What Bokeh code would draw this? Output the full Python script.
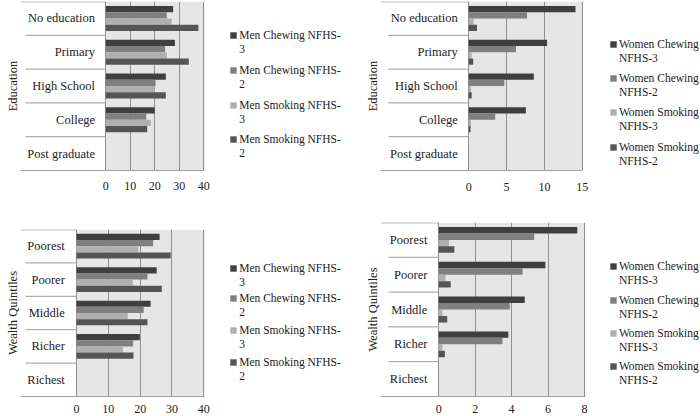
from bokeh.plotting import figure
from bokeh.models import (FactorRange, Range1d, FixedTicker, BoxAnnotation, Legend,
                          LegendItem, ColumnDataSource, Title, Spacer)
from bokeh.transform import dodge
from bokeh.layouts import row, column
from bokeh.embed import file_html
from bokeh.resources import INLINE
from bokeh.core.properties import value

# ---------------- data ----------------
education = ["No education", "Primary", "High School", "College", "Post graduate"]
wealth = ["Poorest", "Poorer", "Middle", "Richer", "Richest"]

men_series = ["Men Chewing NFHS-3", "Men Chewing NFHS-2", "Men Smoking NFHS-3", "Men Smoking NFHS-2"]
women_series = ["Women Chewing NFHS-3", "Women Chewing NFHS-2", "Women Smoking NFHS-3", "Women Smoking NFHS-2"]

men_edu_chew3 = [27.5, 28.2, 24.5, 20.0, 0]
men_edu_chew2 = [24.9, 24.2, 20.3, 16.5, 0]
men_edu_smoke3 = [26.9, 24.9, 19.9, 18.4, 0]
men_edu_smoke2 = [37.8, 33.9, 24.5, 16.9, 0]

women_edu_chew3 = [14.1, 10.35, 8.6, 7.55, 0]
women_edu_chew2 = [7.7, 6.25, 4.7, 3.5, 0]
women_edu_smoke3 = [0.65, 0.4, 0.3, 0.3, 0]
women_edu_smoke2 = [1.1, 0.6, 0.4, 0.25, 0]

men_wealth_chew3 = [26.1, 25.2, 23.3, 19.9, 0]
men_wealth_chew2 = [24.1, 22.3, 21.1, 17.8, 0]
men_wealth_smoke3 = [19.4, 17.7, 16.1, 14.6, 0]
men_wealth_smoke2 = [29.6, 26.8, 22.3, 17.9, 0]

women_wealth_chew3 = [7.6, 5.85, 4.72, 3.82, 0]
women_wealth_chew2 = [5.24, 4.6, 3.9, 3.5, 0]
women_wealth_smoke3 = [0.57, 0.38, 0.21, 0.21, 0]
women_wealth_smoke2 = [0.86, 0.66, 0.47, 0.34, 0]

men_ticks = [0, 10, 20, 30, 40]
women_edu_ticks = [0, 5, 10, 15]
women_wealth_ticks = [0, 2, 4, 6, 8]

# ---------------- style ----------------
COLORS = ["#3f3f3f", "#7f7f7f", "#b0b0b0", "#555555"]
OFFSETS = [0.278, 0.093, -0.093, -0.278]
BAR_H = 0.185
FONT = "Liberation Serif"
TXT = "#222222"
GRID = "#8f8f8f"
ITEM_H = 14


def split_name(name, men):
    """Legend text broken over two lines the way the reference wraps it."""
    if men:
        return name[:-1], name[-1]
    parts = name.split(" ")
    return " ".join(parts[:2]), parts[2]


def panel(cats, vals, names, men, ticks, title, width, height, frame_left, zero_px,
          end_px, frame_top, frame_bottom, sep_px, label_px, standoff, leg_px, leg_lines):
    xmax = ticks[-1]
    scale = (end_px - zero_px) / xmax
    x_start = -(zero_px - frame_left) / scale
    x_end = x_start + (width - frame_left) / scale
    p = figure(width=width, height=height, output_backend="svg", toolbar_location=None,
               y_range=FactorRange(*reversed(cats)), x_range=Range1d(x_start, x_end),
               min_border_left=frame_left, min_border_right=0,
               min_border_top=frame_top, min_border_bottom=height - frame_bottom)
    p.outline_line_color = None
    p.background_fill_color = "white"
    p.border_fill_color = "white"
    grey = BoxAnnotation(left=0, right=xmax + 0.6 / scale, fill_color="#e6e6e6",
                         fill_alpha=1.0, line_color=None, level="underlay")
    p.center = [grey] + list(p.center)

    p.xgrid.ticker = FixedTicker(ticks=ticks)
    p.xgrid.grid_line_color = GRID
    p.ygrid.grid_line_color = None

    xa = p.xaxis[0]
    xa.ticker = FixedTicker(ticks=ticks)
    xa.bounds = (x_start, xmax + 0.6 / scale)
    xa.major_tick_line_color = None
    xa.minor_tick_line_color = None
    xa.axis_line_color = "#a0a0a0"
    xa.major_label_standoff = standoff
    xa.major_label_text_font = FONT
    xa.major_label_text_font_size = "12px"
    xa.major_label_text_color = TXT

    p.yaxis.visible = False
    p.add_layout(Title(text=title, align="center", text_font=FONT,
                       text_font_size="12.5px", text_font_style="normal",
                       text_color=TXT, standoff=2, offset=0), "left")

    data = dict(cat=cats)
    for k, v in enumerate(vals):
        data["s%d" % k] = v
    src = ColumnDataSource(data)

    # category separators in the label area
    sep_x0 = (sep_px - zero_px) / scale
    top_src = ColumnDataSource(dict(cat=cats[:1], x0=[x_start]))
    in_src = ColumnDataSource(dict(cat=cats[1:], x0=[sep_x0] * (len(cats) - 1)))
    p.segment(x0="x0", x1=0, y0=dodge("cat", 0.49, range=p.y_range),
              y1=dodge("cat", 0.49, range=p.y_range), source=top_src,
              line_color="#9a9a9a", line_width=1)
    p.segment(x0="x0", x1=0, y0=dodge("cat", 0.5, range=p.y_range),
              y1=dodge("cat", 0.5, range=p.y_range), source=in_src,
              line_color="#9a9a9a", line_width=1)

    label_x = (label_px - zero_px) / scale
    p.text(x=label_x, y="cat", text="cat", source=src, text_align="right",
           text_baseline="middle", text_font=value(FONT), text_font_size="12.5px",
           text_color=TXT)

    # renderer without marks, used only to carry the second line of each legend entry
    blank = p.scatter(x=[], y=[], size=1, fill_alpha=0, line_alpha=0)

    frame_h = frame_bottom - frame_top
    for k in range(4):
        r = p.hbar(y=dodge("cat", OFFSETS[k], range=p.y_range), left=0, right="s%d" % k,
                   height=BAR_H, source=src, fill_color=COLORS[k], line_color=None)
        l1, l2 = split_name(names[k], men)
        top = leg_lines[k] - frame_top - ITEM_H / 2
        vy = frame_h - top - 2 * ITEM_H
        leg = Legend(items=[LegendItem(label=l1, renderers=[r]),
                            LegendItem(label=l2, renderers=[blank])],
                     location=(leg_px - 0.8 - frame_left, vy), orientation="vertical",
                     margin=0, padding=0, spacing=0, glyph_width=8, glyph_height=8,
                     label_standoff=2, label_height=ITEM_H, label_width=10,
                     label_text_font=FONT, label_text_font_size="11.5px",
                     label_text_color=TXT, label_text_baseline="middle",
                     background_fill_alpha=0, border_line_color=None)
        p.add_layout(leg)
    return p


f1 = panel(education, [men_edu_chew3, men_edu_chew2, men_edu_smoke3, men_edu_smoke2],
           men_series, True, men_ticks, "Education", 362, 208, 20, 105.3, 203.3, 0, 170,
           25, 94.5, 5, 230, [35, 70, 104.5, 139])
f2 = panel(education, [women_edu_chew3, women_edu_chew2, women_edu_smoke3, women_edu_smoke2],
           women_series, False, women_edu_ticks, "Education", 337, 208, 15, 104, 218.7, 1, 172,
           23, 93, 6, 244.7, [46, 80, 114.3, 148.7])
f3 = panel(wealth, [men_wealth_chew3, men_wealth_chew2, men_wealth_smoke3, men_wealth_smoke2],
           men_series, True, men_ticks, "Wealth Quintiles", 362, 200, 20, 76, 203.3, 14, 182,
           25, 64.3, 2, 230, [54, 84, 116, 148])
f4 = panel(wealth, [women_wealth_chew3, women_wealth_chew2, women_wealth_smoke3, women_wealth_smoke2],
           women_series, False, women_wealth_ticks, "Wealth Quintiles", 337, 207, 15, 73.7, 221, 14, 189,
           23, 62.3, 2, 244.7, [59, 93, 126, 159])

layout = column(row(f1, f2), row(column(Spacer(width=362, height=7), f3), f4))
open("out.html", "w").write(file_html(layout, INLINE))
